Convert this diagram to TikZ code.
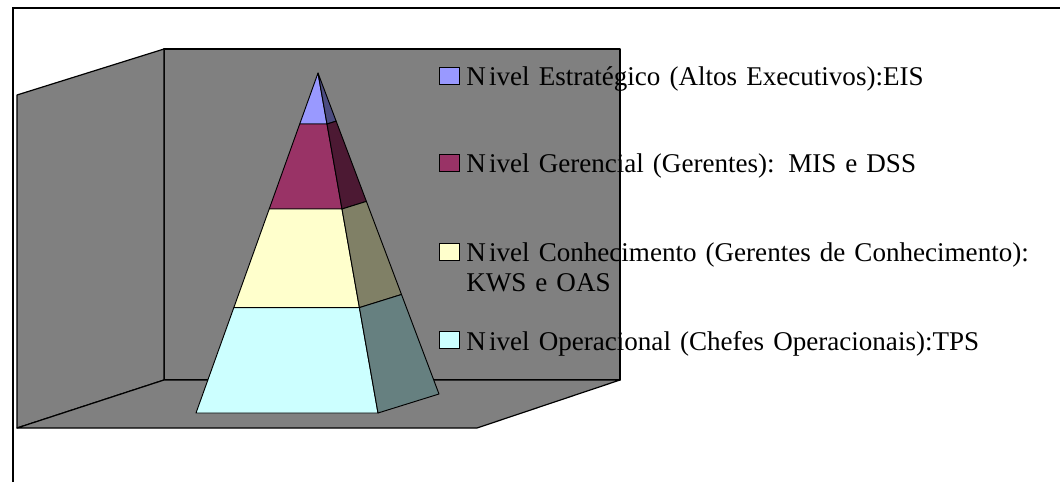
\documentclass[tikz,border=0pt]{standalone}
\usepackage{fontspec}
\setmainfont{Liberation Serif}
\usetikzlibrary{calc}

\definecolor{wallgray}{HTML}{808080}
\definecolor{lvA}{HTML}{9999FF}
\definecolor{lvB}{HTML}{993366}
\definecolor{lvC}{HTML}{FFFFCC}
\definecolor{lvD}{HTML}{CCFFFF}

\begin{document}
\begin{tikzpicture}
  [x=0.75pt,y=-0.75pt,
   wall/.style={fill=wallgray,draw=black,line width=0.9pt,line join=round},
   face/.style={draw=black,line width=0.7pt,line join=round},
   keybox/.style={draw=black,line width=1pt,minimum width=15pt,minimum height=12.5pt,inner sep=0pt},
   lbl/.style={anchor=base west,inner sep=0pt,text width=450pt,align=left,
     font=\fontsize{20.3}{23}\selectfont}]
  \useasboundingbox (0,0) rectangle (1060,482);
  \draw[line width=1pt] (13,482) -- (13,8) -- (1060,8);

  % walls and floor
  \draw[wall] (164,49) rectangle (620,380);
  \draw[wall] (17,95) -- (164,49) -- (164,380) -- (17,428) -- cycle;
  \draw[wall] (17,428) -- (164,380) -- (620,380) -- (477,428) -- cycle;

  % pyramid
  \coordinate (apex) at (318,73);
  \coordinate (fl) at (196,413);
  \coordinate (fr) at (378,413);
  \coordinate (sr) at (439,394);

  \foreach \ta/\tb/\col in {0/0.15/lvA,0.15/0.40/lvB,0.40/0.69/lvC,0.69/1/lvD}
  {
    \draw[face,fill=\col] ($(apex)!\ta!(fl)$) -- ($(apex)!\tb!(fl)$)
      -- ($(apex)!\tb!(fr)$) -- ($(apex)!\ta!(fr)$) -- cycle;
    \draw[face,fill=\col!50!black] ($(apex)!\ta!(fr)$) -- ($(apex)!\tb!(fr)$)
      -- ($(apex)!\tb!(sr)$) -- ($(apex)!\ta!(sr)$) -- cycle;
  }

  % legend
  \node (k1)[keybox,fill=lvA] at (449.5,76) {};
  \node (k2)[keybox,fill=lvB] at (449.5,163) {};
  \node (k3)[keybox,fill=lvC] at (449.5,252) {};
  \node (k4)[keybox,fill=lvD] at (449.5,340) {};

  \node (t1)[lbl] at (466,85) {N\kern2.5pt ivel Estratégico (Altos Executivos):EIS};
  \node (t2)[lbl] at (466,172) {N\kern2.5pt ivel Gerencial (Gerentes): MIS e DSS};
  \node (t3)[lbl] at (466,261) {N\kern2.5pt ivel Conhecimento (Gerentes de Conhecimento):\\KWS e OAS};
  \node (t4)[lbl] at (466,350) {N\kern2.5pt ivel Operacional (Chefes Operacionais):TPS};

\end{tikzpicture}
\end{document}
